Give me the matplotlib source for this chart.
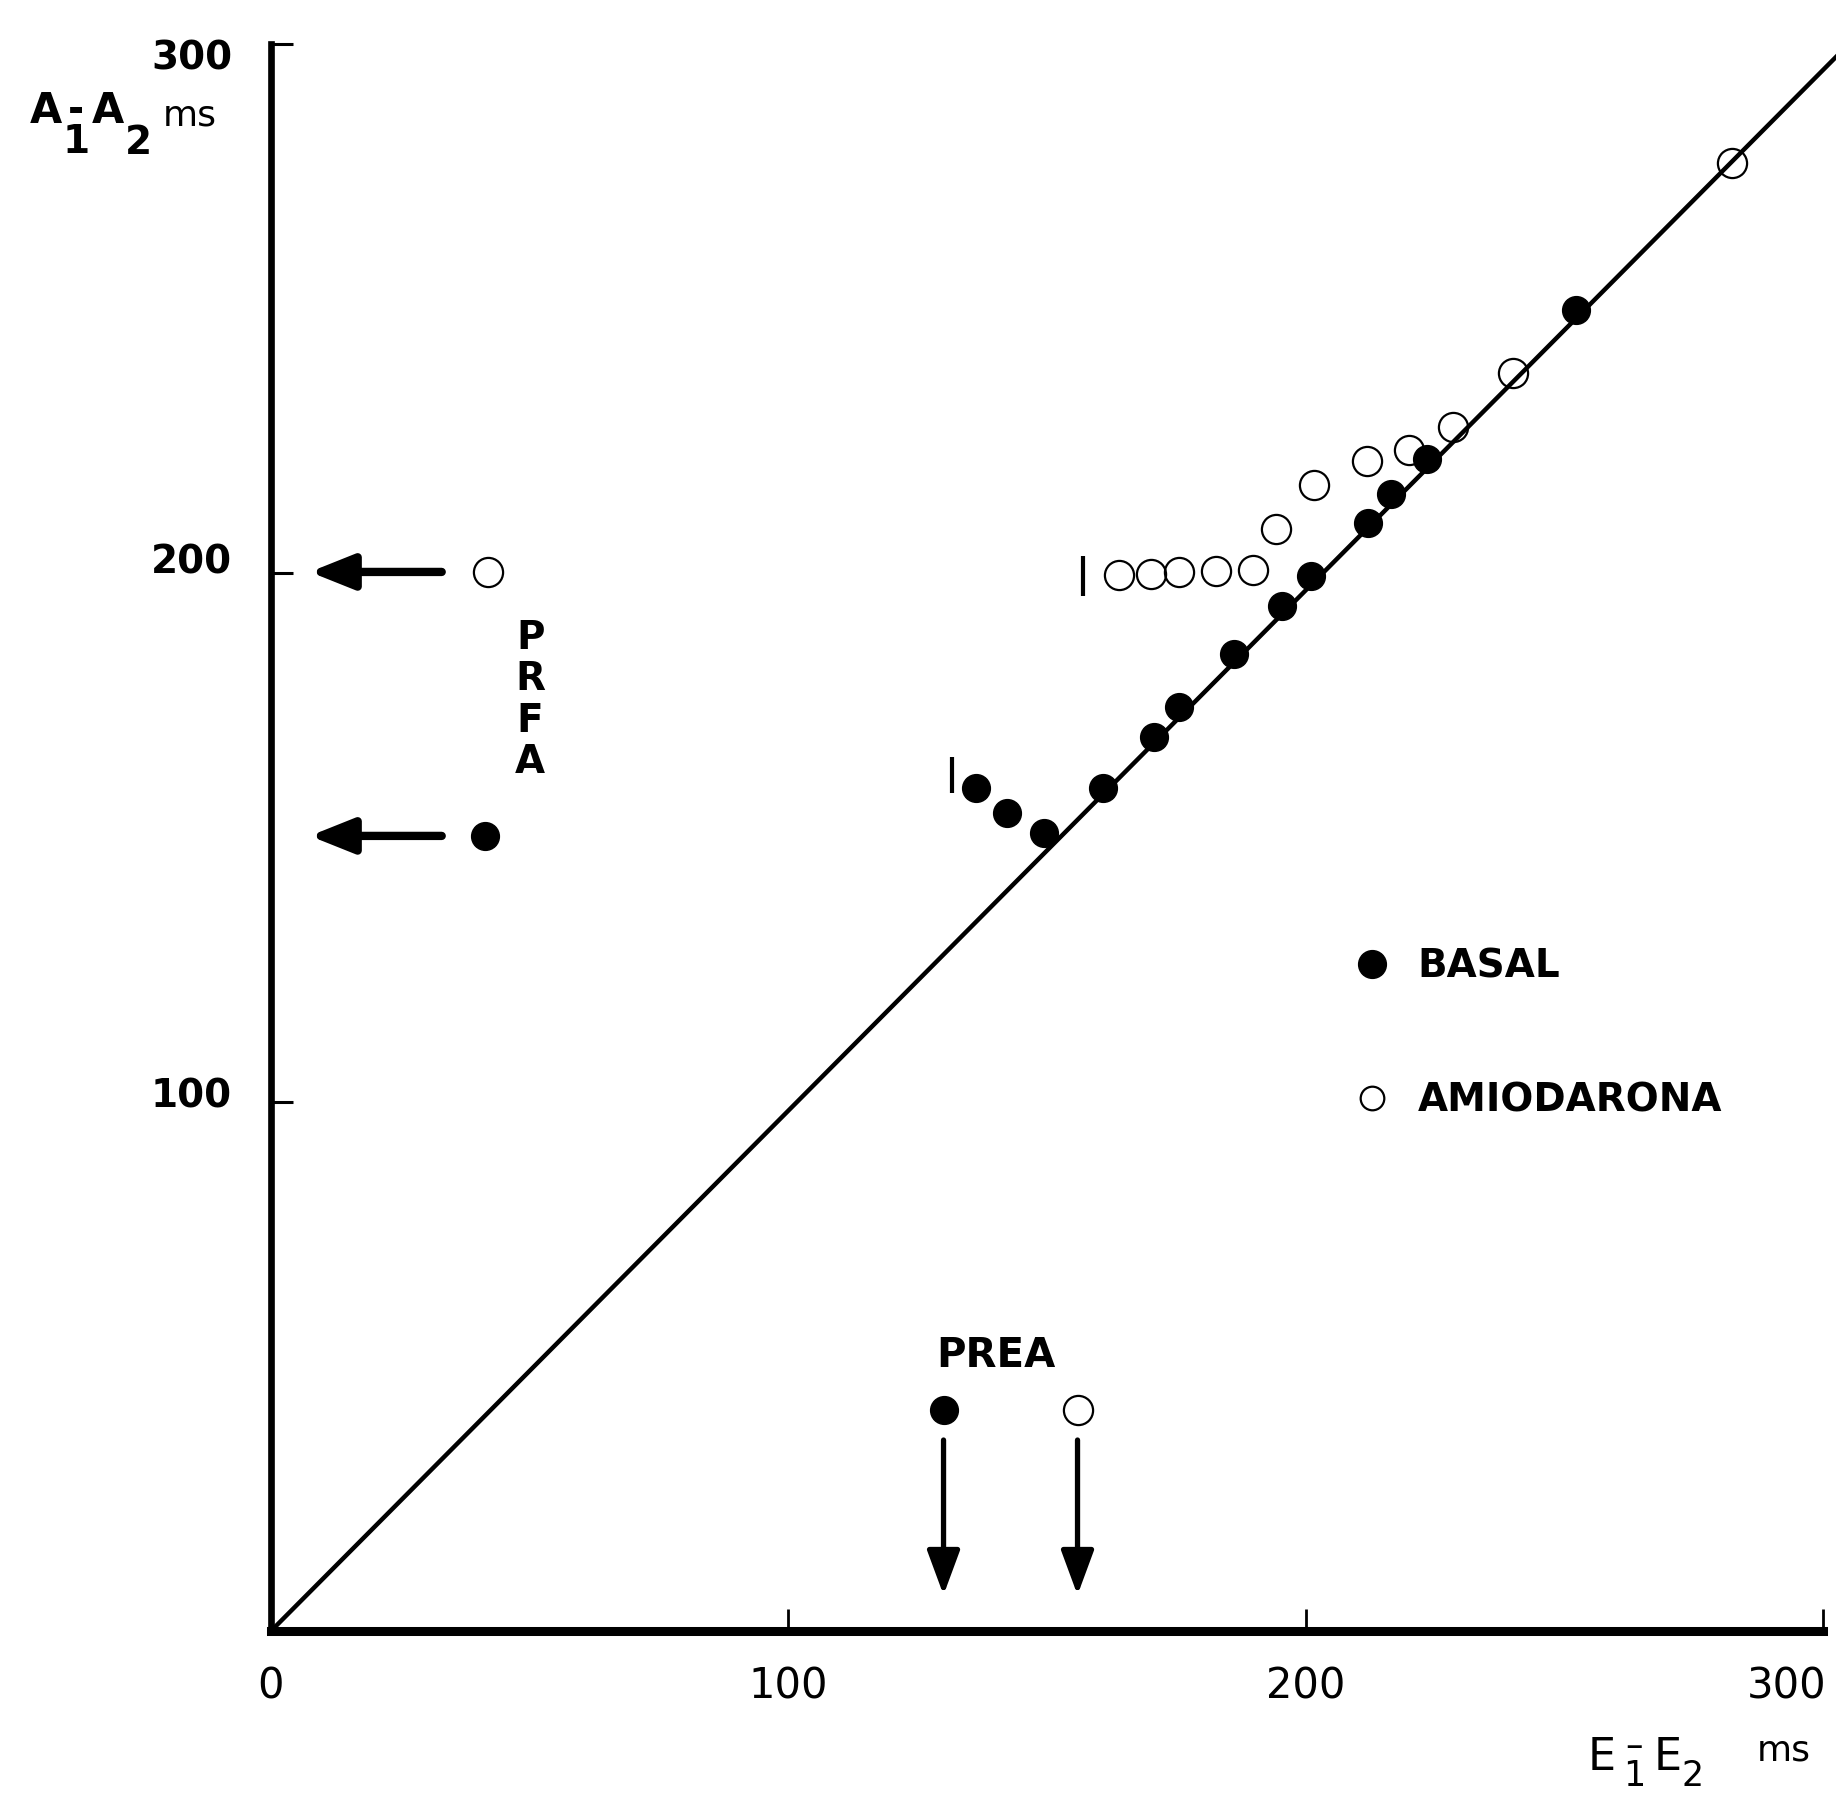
import numpy as np
import matplotlib.pyplot as plt
from matplotlib.lines import Line2D
from matplotlib.transforms import ScaledTranslation

# basal (filled) and amiodarona (open) curves, E1-E2 vs A1-A2 in ms
basal_x = [136.2, 142.2, 149.5, 160.9, 170.6, 175.6, 186.2, 195.5, 201.1, 212.0, 216.5, 223.5, 252.3]
basal_y = [159.4, 154.6, 150.9, 159.4, 169.0, 174.6, 184.6, 193.8, 199.5, 209.5, 215.0, 221.5, 249.8]
amio_x = [164.0, 170.1, 175.6, 182.6, 189.8, 194.3, 201.6, 211.8, 219.9, 228.5, 240.0, 282.4]
amio_y = [199.6, 199.8, 200.1, 200.4, 200.6, 208.4, 216.7, 221.1, 223.3, 227.6, 237.8, 277.5]

# identity reference line
ref_x = [0, 305]
ref_y = [0, 300]

# refractory markers (vertical bars)
bar_x = [131.7, 156.9]
bar_lo = [158.4, 195.7]
bar_hi = [165.2, 203.2]

# PRFA points (left) and PREA points (bottom)
prfa_x = [41.4, 42.0]
prfa_y = [150.3, 200.2]
prea_x = [130.0, 155.9]
prea_y = [41.8, 41.8]

xticks = [0, 100, 200, 300]
yticks = [100, 200, 300]

W, H = 1836, 1794
fig = plt.figure(figsize=(W / 100, H / 100), dpi=100)
ax = fig.add_axes([271 / W, 163 / H, 1552 / W, 1587 / H])
ax.set_xlim(0, 300)
ax.set_ylim(0, 300)
ax.spines['top'].set_visible(False)
ax.spines['right'].set_visible(False)
ax.spines['left'].set_linewidth(4.8)
ax.spines['bottom'].set_linewidth(6.5)

ax.plot(ref_x, ref_y, color='black', lw=3.2, clip_on=False, zorder=2)
ax.plot(amio_x, amio_y, 'o', ms=21, mfc='none', mec='black', mew=1.6, zorder=3)
ax.plot(basal_x, basal_y, 'o', ms=20, color='black', zorder=4)
ax.vlines(bar_x, bar_lo, bar_hi, color='black', lw=3)

ax.plot(prfa_x[0], prfa_y[0], 'o', ms=20, color='black')
ax.plot(prfa_x[1], prfa_y[1], 'o', ms=21, mfc='none', mec='black', mew=1.6)
ax.plot(prea_x[0], prea_y[0], 'o', ms=20, color='black')
ax.plot(prea_x[1], prea_y[1], 'o', ms=21, mfc='none', mec='black', mew=1.6)

# arrows pointing to the axes
for yv in prfa_y:
    ax.annotate('', xy=(7.5, yv), xytext=(33, yv),
                arrowprops=dict(arrowstyle='-|>,head_length=0.6,head_width=0.24',
                                lw=6, color='black', mutation_scale=44,
                                shrinkA=0, shrinkB=0))
for xv in prea_x:
    ax.annotate('', xy=(xv, 6.8), xytext=(xv, 36.1),
                arrowprops=dict(arrowstyle='-|>,head_length=0.65,head_width=0.24',
                                lw=3.8, color='black', mutation_scale=42,
                                shrinkA=0, shrinkB=0))

ax.text(50.1, 176, 'P\nR\nF\nA', ha='center', va='center', fontsize=28,
        fontweight='bold', linespacing=1.12)
ax.text(140.2, 52.0, 'PREA', ha='center', va='center', fontsize=29, fontweight='bold')

# ticks
ax.set_xticks(xticks)
ax.set_xticklabels([str(v) for v in xticks], fontsize=30)
ax.set_yticks(yticks)
ax.set_yticklabels([str(v) for v in yticks], fontsize=28, fontweight='bold')
ax.tick_params(axis='x', direction='in', length=16, width=2, pad=25)
ax.tick_params(axis='y', direction='in', length=16, width=2.2, pad=28)

y_shift = {300: -10, 200: 14, 100: 10}
for lbl, v in zip(ax.get_yticklabels(), yticks):
    lbl.set_transform(lbl.get_transform() + ScaledTranslation(0, y_shift[v] / 100, fig.dpi_scale_trans))
last = ax.get_xticklabels()[-1]
last.set_ha('right')
last.set_transform(last.get_transform() + ScaledTranslation(0.03, 0, fig.dpi_scale_trans))


def ftext(x, y, s, **kw):
    # place text by pixel position in the figure (origin top-left)
    fig.text(x / W, 1 - y / H, s, **kw)


# y axis label  A1-A2 ms  (dash sits above the subscript 1)
ftext(30, 123, 'A', fontsize=30, fontweight='bold', va='baseline')
ftext(76, 153, '-\n1', fontsize=28, fontweight='bold', va='baseline', ha='center',
      linespacing=0.78)
ftext(92, 123, 'A', fontsize=30, fontweight='bold', va='baseline')
ftext(125, 154, '2', fontsize=28, fontweight='bold', va='baseline')
ftext(163, 116, 'ms', fontsize=26, va='center')

# x axis label  E1-E2 ms
ftext(1588, 1770, 'E', fontsize=32, va='baseline')
ftext(1634, 1786, '\u2013\n1', fontsize=25, va='baseline', ha='center', linespacing=0.8)
ftext(1654, 1770, 'E', fontsize=32, va='baseline')
ftext(1682, 1786, '2', fontsize=25, va='baseline')
ftext(1757, 1750, 'ms', fontsize=26, va='center')

# legend
handles = [Line2D([], [], ls='none', marker='o', ms=20, color='black'),
           Line2D([], [], ls='none', marker='o', ms=17, mfc='none', mec='black', mew=1.6)]
ax.legend(handles, ['BASAL', 'AMIODARONA'], loc='upper left',
          bbox_to_anchor=(1353 / W, 1 - 948 / H), bbox_transform=fig.transFigure,
          frameon=False, handlelength=1, handletextpad=0.66, labelspacing=2.45,
          borderpad=0, borderaxespad=0, prop={'size': 28, 'weight': 'bold'})

fig.savefig('out.png', dpi=100)
